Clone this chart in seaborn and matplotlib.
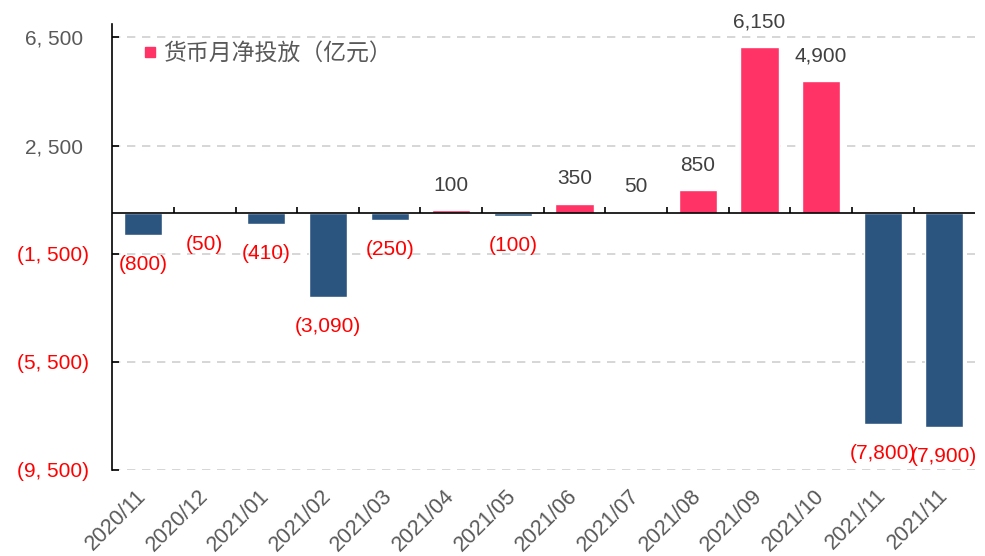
import numpy as np
import pandas as pd
import matplotlib
matplotlib.use("Agg")
import matplotlib.pyplot as plt
from matplotlib.lines import Line2D
from matplotlib.transforms import ScaledTranslation
import seaborn as sns

# --- dados ---
meses = ["2020/11", "2020/12", "2021/01", "2021/02", "2021/03", "2021/04", "2021/05",
         "2021/06", "2021/07", "2021/08", "2021/09", "2021/10", "2021/11", "2021/11"]
valores = [-800, -50, -410, -3090, -250, 100, -100, 350, 50, 850, 6150, 4900, -7800, -7900]
yticks = [6500, 2500, -1500, -5500, -9500]
legenda = "货币月净投放（亿元）"

COR_POS = "#FF3366"
COR_NEG = "#2B557F"
CINZA = "#595959"

sns.set_theme(style="white")
plt.rcParams["font.family"] = ["Liberation Sans", "Noto Sans CJK SC", "DejaVu Sans"]

df = pd.DataFrame({"pos": np.arange(len(valores)), "valor": valores})
df["sinal"] = np.where(df["valor"] >= 0, "pos", "neg")

fig = plt.figure(figsize=(9.85, 5.56), dpi=100)
ax = fig.add_axes([0.114, 0.155, 0.876, 0.802])

sns.barplot(data=df, x="pos", y="valor", hue="sinal", palette={"pos": COR_POS, "neg": COR_NEG},
            dodge=False, width=0.62, legend=False, ax=ax, saturation=1)

ax.set_ylim(-9500, 7000)
ax.set_xlim(-0.5, len(valores) - 0.5)
ax.set_yticks(yticks)
ax.set_yticklabels([f"{v:,} ".replace(",", ", ") if v >= 0 else f"({abs(v):,})".replace(",", ", ")
                    for v in yticks], fontsize=15)
for lbl, v in zip(ax.get_yticklabels(), yticks):
    lbl.set_color(CINZA if v >= 0 else "red")

ax.set_xticks(range(len(meses)))
ax.set_xticklabels(meses, rotation=45, ha="right", va="center", rotation_mode="anchor",
                   fontsize=15.5, color=CINZA)
for lbl in ax.get_xticklabels():
    lbl.set_transform(lbl.get_transform() + ScaledTranslation(-0.05, 0, fig.dpi_scale_trans))
ax.set_xlabel("")
ax.set_ylabel("")

# grade tracejada e eixo zero
ax.yaxis.grid(True, linestyle=(0, (5, 4)), color="#D0D0D0", linewidth=1.2)
ax.set_axisbelow(True)
ax.axhline(0, color="black", linewidth=1.2)
ax.vlines(np.arange(len(valores) - 1) + 0.5, 0, 230, color="black", linewidth=1.2)
for s in ["top", "right", "bottom"]:
    ax.spines[s].set_visible(False)
ax.spines["left"].set_color("black")
ax.spines["left"].set_linewidth(1.2)
ax.tick_params(axis="y", direction="in", length=5, width=1.2, color="black", pad=17, left=True)
ax.tick_params(axis="x", length=0, pad=16.5)

# rótulos dos valores
for i, v in enumerate(valores):
    if v >= 0:
        ax.annotate(f"{v:,}", (i, v), xytext=(0, 11), textcoords="offset points",
                    ha="center", va="bottom", fontsize=15, color="#404040", annotation_clip=False)
    else:
        ax.annotate(f"({abs(v):,})", (i, v), xytext=(0, -14.5), textcoords="offset points",
                    ha="center", va="top", fontsize=15, color="red", annotation_clip=False)

handle = Line2D([], [], marker="s", linestyle="none", color=COR_POS, markersize=7)
ax.legend([handle], [legenda], loc="upper left", bbox_to_anchor=(0.02, 0.98), frameon=False,
          prop={"family": ["Noto Sans CJK SC"], "size": 16.5}, labelcolor=CINZA,
          handletextpad=0.05, borderaxespad=0, handlelength=1.0)

fig.savefig("out.png", dpi=100)
